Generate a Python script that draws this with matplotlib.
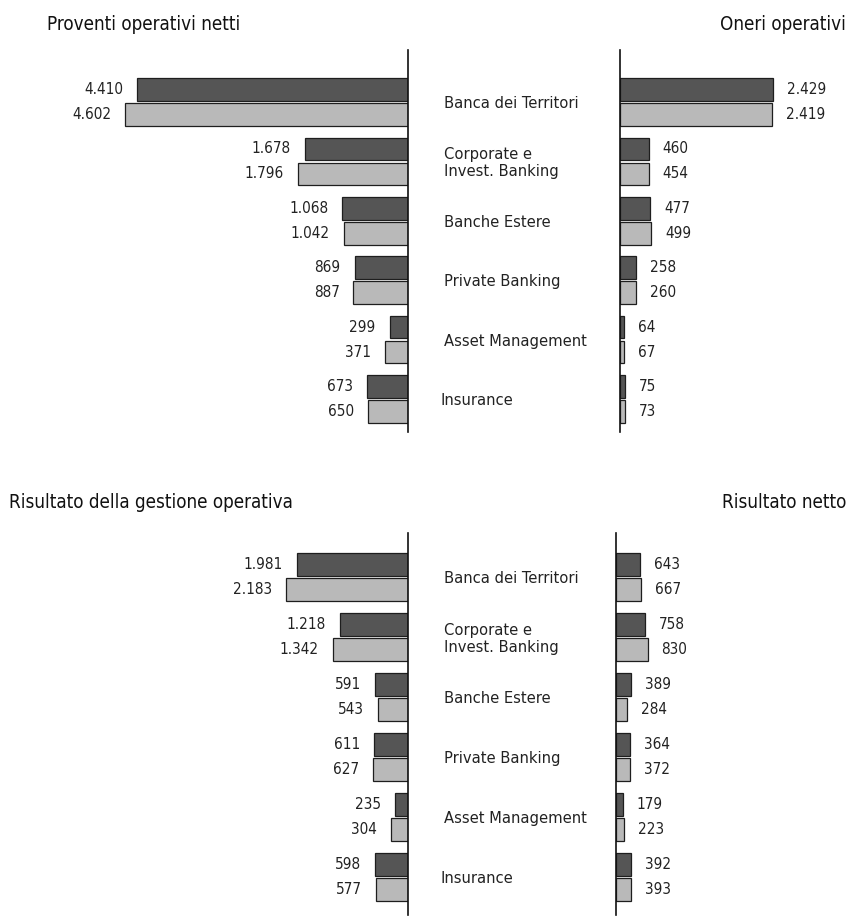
import matplotlib.pyplot as plt
from matplotlib import transforms

plt.rcParams['font.family'] = ['DejaVu Sans']
plt.rcParams['font.stretch'] = 'condensed'

categories = ["Banca dei Territori", "Corporate e\nInvest. Banking", "Banche Estere",
              "Private Banking", "Asset Management", "Insurance"]

proventi_dark = [4410, 1678, 1068, 869, 299, 673]
proventi_light = [4602, 1796, 1042, 887, 371, 650]
oneri_dark = [2429, 460, 477, 258, 64, 75]
oneri_light = [2419, 454, 499, 260, 67, 73]
gestione_dark = [1981, 1218, 591, 611, 235, 598]
gestione_light = [2183, 1342, 543, 627, 304, 577]
netto_dark = [643, 758, 389, 364, 179, 392]
netto_light = [667, 830, 284, 372, 223, 393]

DARK = "#555555"
LIGHT = "#b9b9b9"
EDGE = "#1e1e1e"

W, H = 851, 917
fig = plt.figure(figsize=(W / 100, H / 100), dpi=100)


def px_axes(left, top, width, height):
    return fig.add_axes([left / W, 1 - (top + height) / H, width / W, height / H])


def fmt(v):
    return f"{v:,}".replace(",", ".")


def panel(ax, dark, light, side, xmax, ylim):
    y = list(range(len(dark)))
    sign = -1 if side == "left" else 1
    yd = [i - 0.21 for i in y]
    yl = [i + 0.21 for i in y]
    ax.barh(yd, [sign * v for v in dark], height=0.38, color=DARK, edgecolor=EDGE, linewidth=0.9)
    ax.barh(yl, [sign * v for v in light], height=0.38, color=LIGHT, edgecolor=EDGE, linewidth=0.9)
    off = -10 if side == "left" else 10
    ha = "right" if side == "left" else "left"
    for vals, ys in ((dark, yd), (light, yl)):
        for v, yy in zip(vals, ys):
            ax.annotate(fmt(v), (sign * v, yy), xytext=(off, 0), textcoords="offset points",
                        ha=ha, va="center", fontsize=11, color="#222222")
    if side == "left":
        ax.set_xlim(-xmax, 0)
    else:
        ax.set_xlim(0, xmax)
    ax.set_ylim(*ylim)
    for s in ax.spines.values():
        s.set_visible(False)
    sp = ax.spines["right"] if side == "left" else ax.spines["left"]
    sp.set_visible(True)
    sp.set_linewidth(1.2)
    sp.set_color("#111111")
    ax.set_xticks([])
    ax.set_yticks([])
    ax.patch.set_alpha(0)


# top row
ax1 = px_axes(40, 50, 368, 382)
panel(ax1, proventi_dark, proventi_light, "left", 368 / 0.0615, (5.556, -0.875))
ax2 = px_axes(620, 50, 225, 382)
panel(ax2, oneri_dark, oneri_light, "right", 225 / 0.063, (5.556, -0.875))

# bottom row
ax3 = px_axes(40, 533, 368, 382)
panel(ax3, gestione_dark, gestione_light, "left", 368 / 0.056, (5.633, -0.733))
ax4 = px_axes(616, 533, 229, 382)
panel(ax4, netto_dark, netto_light, "right", 229 / 0.038, (5.633, -0.733))

for ax in (ax1, ax3):
    tr = transforms.blended_transform_factory(fig.transFigure, ax.transData)
    for i, c in enumerate(categories):
        x = 441 if c == "Insurance" else 444
        ax.text(x / W, i + 0.03, c, transform=tr, ha="left", va="center", fontsize=11.8,
                color="#222222", linespacing=1.15)

fig.text(47 / W, 1 - 24 / H, "Proventi operativi netti", ha="left", va="center", fontsize=13.5, color="#111111")
fig.text(846 / W, 1 - 24 / H, "Oneri operativi", ha="right", va="center", fontsize=13.5, color="#111111")
fig.text(9 / W, 1 - 502 / H, "Risultato della gestione operativa", ha="left", va="center", fontsize=13.5, color="#111111")
fig.text(846 / W, 1 - 502 / H, "Risultato netto", ha="right", va="center", fontsize=13.5, color="#111111")

fig.savefig("out.png", dpi=100)
